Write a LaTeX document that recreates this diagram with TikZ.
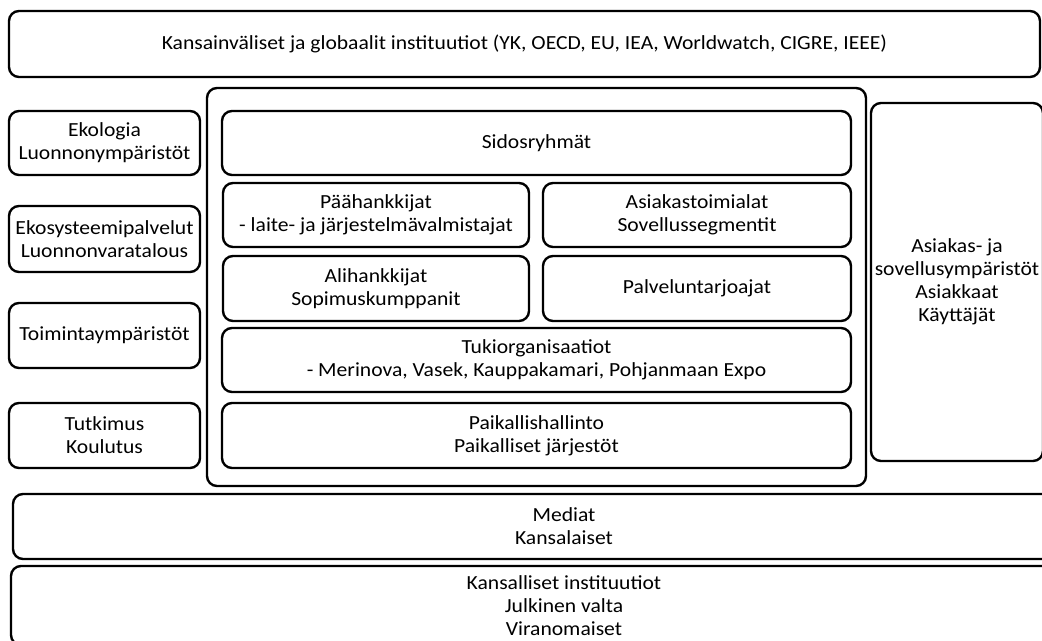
\documentclass[tikz,border=0pt]{standalone}
\usepackage{fontspec}
\setmainfont{Carlito}[FakeStretch=1.08]
\begin{document}
\begin{tikzpicture}[x=0.75pt,y=-0.75pt,
  panel/.style 2 args={draw=black, line width=1.8pt, rounded corners=7.5pt,
    fill=white, align=center, inner sep=0pt,
    minimum width=#1*0.75pt, minimum height=#2*0.75pt,
    font=\fontsize{15}{17.25}\selectfont}]
\useasboundingbox (0,0) rectangle (1042,641);
\clip (0,0) rectangle (1042,641);
\fill[white] (0,0) rectangle (1042,641);

% international layer
\node[panel={1031}{66}] (intl) at (524.5,44)
  {Kansainväliset ja globaalit instituutiot (YK, OECD, EU, IEA, Worldwatch, CIGRE, IEEE)};

% central cluster frame
\node[panel={659}{398}] (core) at (536.5,287) {};

% left column
\node[panel={191}{64}] (eko) at (104.5,143) {Ekologia\\Luonnonympäristöt};
\node[panel={191}{66}] (ekosys) at (104.5,239) {Ekosysteemipalvelut\\Luonnonvaratalous};
\node[panel={191}{65}] (toim) at (104.5,335.5) {Toimintaympäristöt};
\node[panel={191}{65}] (tutk) at (104.5,435.5) {Tutkimus\\Koulutus};

% inside the cluster
\node[panel={629}{64}] (sidos) at (536.5,143) {Sidosryhmät};
\node[panel={306}{64}] (paah) at (376,215) {Päähankkijat\\- laite- ja järjestelmävalmistajat};
\node[panel={308}{64}] (asiak) at (697,215) {Asiakastoimialat\\Sovellussegmentit};
\node[panel={306}{65}] (alih) at (376,288.5) {Alihankkijat\\Sopimuskumppanit};
\node[panel={308}{65}] (palv) at (697,288.5) {Palveluntarjoajat};
\node[panel={629}{64}] (tuki) at (536.5,360) {Tukiorganisaatiot\\- Merinova, Vasek, Kauppakamari, Pohjanmaan Expo};
\node[panel={629}{65}] (paik) at (536.5,435.5) {Paikallishallinto\\Paikalliset järjestöt};

% right column
\node[panel={172}{358}] (sovel) at (957,282)
  {Asiakas- ja\\sovellusympäristöt\\Asiakkaat\\Käyttäjät};

% bottom layers
\node[panel={1102}{65}] (media) at (564,526.5) {Mediat\\Kansalaiset};
\node[panel={1106}{79}] (kans) at (564,605.5)
  {Kansalliset instituutiot\\Julkinen valta\\Viranomaiset};
\end{tikzpicture}
\end{document}
